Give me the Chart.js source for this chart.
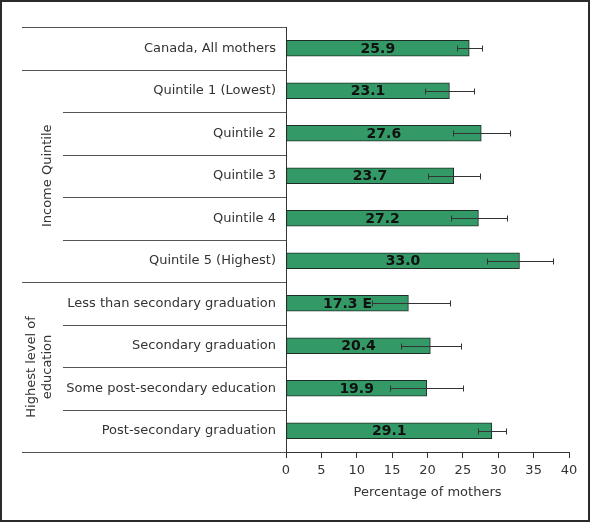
<!DOCTYPE html>
<html>
<head>
<meta charset="utf-8">
<script src="https://cdn.jsdelivr.net/npm/chart.js@4.4.1/dist/chart.umd.min.js"></script>
<style>
  html, body { margin: 0; padding: 0; background: #fff; }
  #wrap { position: relative; width: 590px; height: 522px; }
  #grafico { position: absolute; left: 0; top: 0; }
  #moldura { position: absolute; inset: 0; border: 2px solid #2b2b2b; box-sizing: border-box; pointer-events: none; }
</style>
</head>
<body>
<div id="wrap">
  <canvas id="grafico" width="590" height="522"></canvas>
  <div id="moldura"></div>
</div>
<script>
// dados
const categorias = [
  "Canada, All mothers",
  "Quintile 1 (Lowest)",
  "Quintile 2",
  "Quintile 3",
  "Quintile 4",
  "Quintile 5 (Highest)",
  "Less than secondary graduation",
  "Secondary graduation",
  "Some post-secondary education",
  "Post-secondary graduation"
];
const valores = [25.9, 23.1, 27.6, 23.7, 27.2, 33.0, 17.3, 20.4, 19.9, 29.1];
const rotulos = ["25.9", "23.1", "27.6", "23.7", "27.2", "33.0", "17.3 E", "20.4", "19.9", "29.1"];
const erroMin = [24.2, 19.7, 23.6, 20.1, 23.3, 28.4, 12.1, 16.2, 14.7, 27.1];
const erroMax = [27.7, 26.6, 31.7, 27.4, 31.3, 37.8, 23.2, 24.8, 25.0, 31.1];
const xTicks = [0, 5, 10, 15, 20, 25, 30, 35, 40];

// grupos: [texto, primeira linha, última linha]
const grupos = [
  [["Income Quintile"], 1, 5],
  [["Highest level of", "education"], 6, 9]
];
const divisoesGrupo = [0, 1, 6, 10]; // linhas que vão até a borda esquerda

const fonte = '"DejaVu Sans", Verdana, sans-serif';

const pluginExtras = {
  id: 'extras',
  afterDatasetsDraw(chart) {
    const ctx = chart.ctx;
    const xs = chart.scales.x;
    const ys = chart.scales.y;
    const meta = chart.getDatasetMeta(0);
    const passo = ys.getPixelForValue(1) - ys.getPixelForValue(0);

    // valores dentro das barras
    ctx.save();
    ctx.font = 'bold 14px ' + fonte;
    ctx.fillStyle = '#111';
    ctx.textAlign = 'center';
    ctx.textBaseline = 'middle';
    meta.data.forEach((barra, i) => {
      const cx = (barra.x + barra.base) / 2;
      ctx.fillText(rotulos[i], cx, barra.y + 1);
    });
    ctx.restore();

    // barras de erro
    ctx.save();
    ctx.strokeStyle = '#333';
    ctx.lineWidth = 1;
    for (let i = 0; i < valores.length; i++) {
      const y = Math.round(ys.getPixelForValue(i)) + 0.5;
      const x1 = Math.round(xs.getPixelForValue(erroMin[i])) + 0.5;
      const x2 = Math.round(xs.getPixelForValue(erroMax[i])) + 0.5;
      ctx.beginPath();
      ctx.moveTo(x1, y); ctx.lineTo(x2, y);
      ctx.moveTo(x1, y - 3); ctx.lineTo(x1, y + 3);
      ctx.moveTo(x2, y - 3); ctx.lineTo(x2, y + 3);
      ctx.stroke();
    }
    ctx.restore();

    // linhas separadoras da área de categorias
    ctx.save();
    ctx.strokeStyle = '#555';
    ctx.lineWidth = 1;
    for (let k = 0; k <= categorias.length; k++) {
      const y = Math.round(ys.getPixelForValue(k) - passo / 2) + 0.5;
      const xIni = divisoesGrupo.includes(k) ? 22 : 63;
      ctx.beginPath();
      ctx.moveTo(xIni, y);
      ctx.lineTo(chart.chartArea.left, y);
      ctx.stroke();
    }
    ctx.restore();

    // rótulos dos grupos (texto girado)
    ctx.save();
    ctx.font = '13px ' + fonte;
    ctx.fillStyle = '#333';
    ctx.textAlign = 'center';
    ctx.textBaseline = 'middle';
    grupos.forEach(([linhas, a, b]) => {
      const yc = (ys.getPixelForValue(a) + ys.getPixelForValue(b)) / 2;
      const lh = 16;
      const xc = 48 - (linhas.length - 1) * lh / 2;
      ctx.save();
      ctx.translate(xc, yc);
      ctx.rotate(-Math.PI / 2);
      linhas.forEach((t, j) => {
        const off = (j - (linhas.length - 1) / 2) * lh;
        ctx.fillText(t, 0, off);
      });
      ctx.restore();
    });
    ctx.restore();
  }
};

const ctx = document.getElementById('grafico').getContext('2d');
new Chart(ctx, {
  type: 'bar',
  data: {
    labels: categorias,
    datasets: [{
      data: valores,
      backgroundColor: '#339966',
      borderColor: '#1e2e24',
      borderWidth: 1,
      borderSkipped: false,
      barThickness: 16
    }]
  },
  options: {
    indexAxis: 'y',
    responsive: false,
    animation: false,
    devicePixelRatio: 1,
    layout: { padding: { left: 22, right: 21, top: 27, bottom: 10 } },
    plugins: {
      legend: { display: false },
      tooltip: { enabled: false }
    },
    scales: {
      x: {
        min: 0,
        max: 40,
        afterBuildTicks: (scale) => { scale.ticks = xTicks.map(v => ({ value: v })); },
        afterFit: (scale) => { scale.height = 60; },
        grid: { drawOnChartArea: false, drawTicks: true, tickLength: 6, color: '#333' },
        border: { display: true, color: '#333' },
        ticks: { color: '#333', font: { family: fonte, size: 13 }, padding: 5 },
        title: {
          display: true,
          text: 'Percentage of mothers',
          color: '#333',
          font: { family: fonte, size: 13 },
          padding: { top: 4, bottom: 12 }
        }
      },
      y: {
        afterFit: (scale) => { scale.width = 264; },
        grid: { display: false },
        border: { display: true, color: '#333' },
        ticks: { color: '#333', font: { family: fonte, size: 13 }, padding: 2, autoSkip: false }
      }
    }
  },
  plugins: [pluginExtras]
});
</script>
</body>
</html>
